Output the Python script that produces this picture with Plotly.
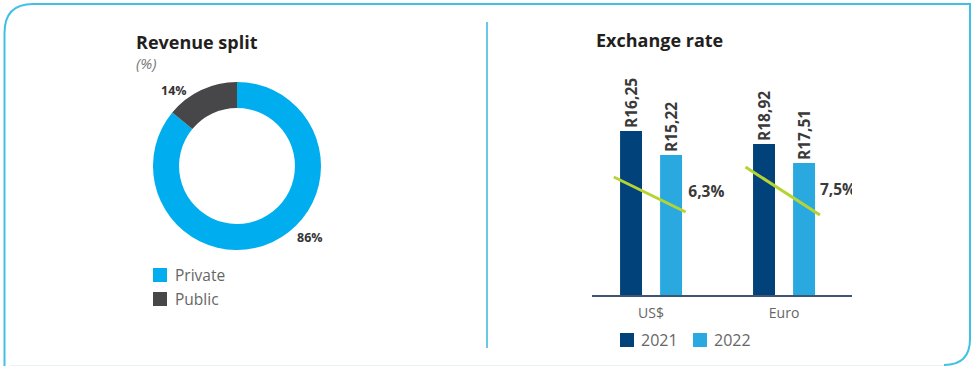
import plotly.graph_objects as go

W, H = 972, 366

# revenue split (%)
split_labels = ["Private", "Public"]
split_values = [86, 14]
split_colors = ["#00AEEF", "#47474A"]

# exchange rate (rand per unit)
currencies = ["US$", "Euro"]
years = ["2021", "2022"]
rate_2021 = [16.25, 18.92]
rate_2022 = [15.22, 17.51]
# bar heights as drawn in the infographic (not to scale with the rates)
drawn_2021 = [16.4, 15.1]
drawn_2022 = [14.0, 13.2]
year_colors = ["#01427A", "#29A9E0"]
# decline arrows: start/end (x offset from category, drawn height)
trend_x0 = [-0.28, 0.71]
trend_x1 = [0.26, 1.27]
trend_y0 = [11.8, 12.8]
trend_y1 = [8.3, 8.0]
change_x = [0.28, 1.27]
change_y = [10.2, 10.4]

GREY = "#666666"
BORDER = "#3FC1E3"
GREEN = "#B5D433"
FONT = "Open Sans, sans-serif"

fig = go.Figure()

fig.add_trace(go.Pie(
    labels=split_labels, values=split_values, hole=0.69, sort=False,
    direction="clockwise", rotation=0,
    marker=dict(colors=split_colors, line=dict(width=0)),
    textinfo="none", showlegend=False, hoverinfo="label+percent",
    domain=dict(x=[153 / W, 321 / W], y=[1 - 250 / H, 1 - 82 / H]),
))

fmt = lambda v: "R" + f"{v:.2f}".replace(".", ",")
for yr, drawn, rates, col, off in [
    (years[0], drawn_2021, rate_2021, year_colors[0], -0.233),
    (years[1], drawn_2022, rate_2022, year_colors[1], 0.068),
]:
    fig.add_trace(go.Bar(
        x=[0, 1], y=drawn, name=yr, marker=dict(color=col, line=dict(width=0)),
        width=0.165, offset=off,
        text=[fmt(r) for r in rates], textposition="outside", textangle=-90,
        textfont=dict(family=FONT, size=15.5, color="#3A3A3A", weight="bold"),
        constraintext="none", cliponaxis=False, showlegend=False,
        hovertemplate="%{text}<extra>" + yr + "</extra>",
    ))

for i in range(len(currencies)):
    fig.add_trace(go.Scatter(
        x=[trend_x0[i], trend_x1[i]], y=[trend_y0[i], trend_y1[i]], mode="lines",
        line=dict(color=GREEN, width=3), showlegend=False, hoverinfo="skip",
    ))

changes = [(a - b) / a * 100 for a, b in zip(rate_2021, rate_2022)]
fig.add_trace(go.Scatter(
    x=change_x, y=change_y, mode="text",
    text=[f"{c:.1f}%".replace(".", ",") for c in changes],
    textposition="middle right", cliponaxis=True,
    textfont=dict(family=FONT, size=15.5, color="#3A3A3A", weight="bold"),
    showlegend=False, hoverinfo="skip",
))

# pixel overlay axis for the frame and labels
fig.add_trace(go.Scatter(x=[0], y=[0], xaxis="x2", yaxis="y2", mode="markers",
                         marker=dict(opacity=0), showlegend=False, hoverinfo="skip"))

shapes = [
    dict(type="path", xref="x2", yref="y2", layer="below",
         path="M 4.5,366 L 4.5,33 Q 4.5,4 33,4 L 970,4 L 970,339 Q 970,365 944,365",
         line=dict(color=BORDER, width=2)),
    dict(type="line", xref="x2", yref="y2", x0=10, x1=944, y0=365.5, y1=365.5,
         line=dict(color="#E6F2F5", width=1)),
    dict(type="line", xref="x2", yref="y2", x0=487, x1=487, y0=22, y1=348,
         line=dict(color="#39B5DC", width=1.5)),
]
annotations = [
    dict(text="<b>Revenue split</b>", x=134, y=42),
    dict(text="<b>Exchange rate</b>", x=594, y=40),
]
annotations = [dict(a, xref="x2", yref="y2", xanchor="left", yanchor="middle", showarrow=False,
                    font=dict(family=FONT, size=18, color="#231F20")) for a in annotations]
annotations.append(dict(text="<i>(%)</i>", x=134, y=63, xref="x2", yref="y2", xanchor="left",
                        yanchor="middle", showarrow=False,
                        font=dict(family=FONT, size=15, color="#777777")))

# donut labels
for val, (lx, ly) in zip(split_values, [(310, 237), (174, 90)]):
    annotations.append(dict(text=f"<b>{val}%</b>", x=lx, y=ly, xref="x2", yref="y2",
                            showarrow=False, font=dict(family=FONT, size=12.5, color="#333333")))

# legends
for name, col, (sx, sy) in zip(split_labels, split_colors, [(153, 268), (153, 292)]):
    shapes.append(dict(type="rect", xref="x2", yref="y2", x0=sx, x1=sx + 14, y0=sy, y1=sy + 14,
                       fillcolor=col, line=dict(width=0)))
    annotations.append(dict(text=name, x=sx + 20, y=sy + 7, xref="x2", yref="y2", xanchor="left",
                            yanchor="middle", showarrow=False,
                            font=dict(family=FONT, size=15.5, color=GREY)))
for name, col, (sx, sy) in zip(years, year_colors, [(620, 333), (693, 333)]):
    shapes.append(dict(type="rect", xref="x2", yref="y2", x0=sx, x1=sx + 14, y0=sy, y1=sy + 14,
                       fillcolor=col, line=dict(width=0)))
    annotations.append(dict(text=name, x=sx + 19, y=sy + 7, xref="x2", yref="y2", xanchor="left",
                            yanchor="middle", showarrow=False,
                            font=dict(family=FONT, size=16, color=GREY)))

fig.update_layout(
    width=W, height=H, margin=dict(l=0, r=0, t=0, b=0),
    paper_bgcolor="white", plot_bgcolor="rgba(0,0,0,0)",
    barmode="overlay", showlegend=False,
    xaxis=dict(domain=[592 / W, 852 / W], range=[-0.444, 1.511], tickvals=[0, 1],
               ticktext=currencies, showgrid=False, zeroline=False,
               showline=True, linecolor="#3E5573", linewidth=2,
               tickfont=dict(family=FONT, size=14, color=GREY), ticklabelstandoff=4,
               fixedrange=True),
    yaxis=dict(domain=[1 - 295 / H, 1 - 70 / H], range=[0, 22.5], visible=False,
               fixedrange=True),
    xaxis2=dict(domain=[0, 1], range=[0, W], visible=False, fixedrange=True),
    yaxis2=dict(domain=[0, 1], range=[H, 0], visible=False, fixedrange=True),
    shapes=shapes, annotations=annotations,
)

fig.write_html("out.html", config=dict(displayModeBar=False),
               post_script="document.body.style.margin='0';")
